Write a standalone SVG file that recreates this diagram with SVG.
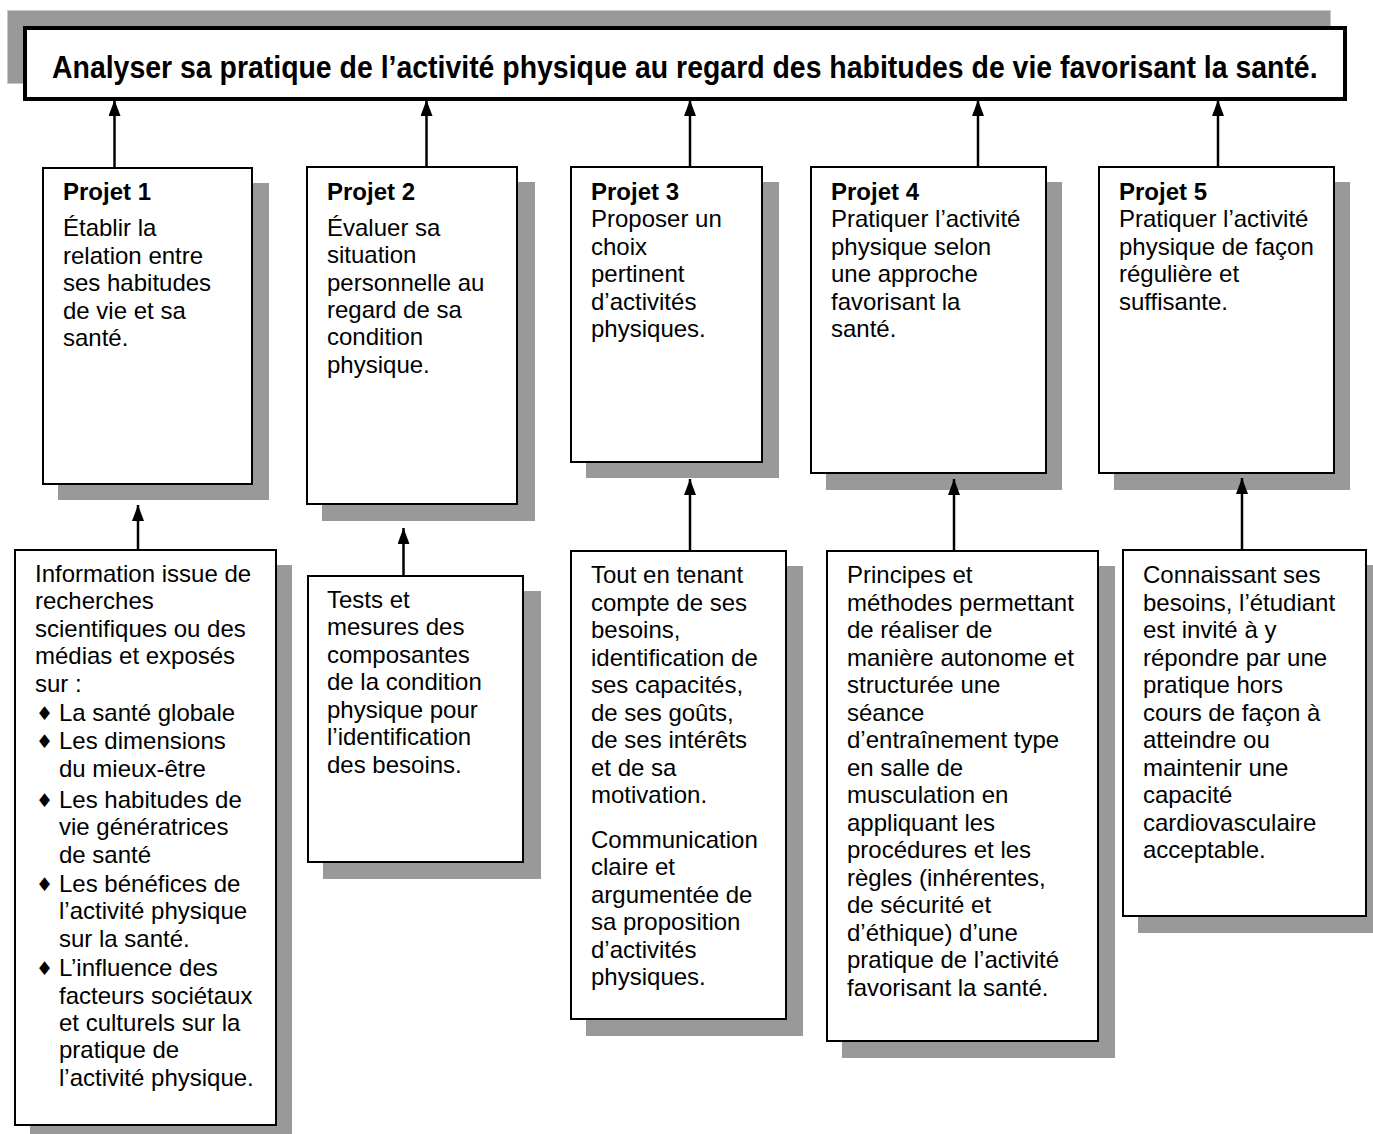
<svg xmlns="http://www.w3.org/2000/svg" width="1373" height="1134" viewBox="0 0 1373 1134">
<style>
.sh{fill:#999999}
.box{fill:#ffffff;stroke:#000000;stroke-width:2}
.t{font-family:"Liberation Sans",Arial,sans-serif;font-size:24px;fill:#000000}
.b{font-weight:bold}
.dm{font-family:"DejaVu Sans",sans-serif;font-size:19px}
.conn line{stroke:#000000;stroke-width:2.5;marker-end:url(#ah)}
</style>
<defs>
<marker id="ah" markerUnits="userSpaceOnUse" markerWidth="16" markerHeight="12" refX="16" refY="6" orient="auto">
<path d="M0,0 L16,6 L0,12 z" fill="#000000"/>
</marker>
</defs>
<rect width="1373" height="1134" fill="#ffffff"/>

<g id="title">
<rect x="7.5" y="10.5" width="1323" height="73" fill="#999999" stroke="#c8c8c8" stroke-width="1"/>
<rect x="25" y="28" width="1320" height="71" fill="#ffffff" stroke="#000000" stroke-width="4"/>
<text transform="translate(52,78) scale(0.8,1)" x="0" y="0" font-family="'Liberation Sans Narrow','Liberation Sans',Arial,sans-serif" font-size="31" font-weight="bold" textLength="1582" lengthAdjust="spacingAndGlyphs">Analyser sa pratique de l’activité physique au regard des habitudes de vie favorisant la santé.</text>
</g>

<g id="projet1">
<rect class="sh" x="58" y="183" width="211" height="317"/>
<rect class="box" x="43" y="168" width="209" height="316"/>
<text class="t"><tspan class="b" x="63" y="200">Projet 1</tspan><tspan x="63" y="236">Établir la</tspan><tspan x="63" y="263.5">relation entre</tspan><tspan x="63" y="291">ses habitudes</tspan><tspan x="63" y="318.5">de vie et sa</tspan><tspan x="63" y="346">santé.</tspan></text>
</g>

<g id="projet2">
<rect class="sh" x="322" y="182" width="213" height="339"/>
<rect class="box" x="307" y="167" width="210" height="337"/>
<text class="t"><tspan class="b" x="327" y="200">Projet 2</tspan><tspan x="327" y="236">Évaluer sa</tspan><tspan x="327" y="263.3">situation</tspan><tspan x="327" y="290.6">personnelle au</tspan><tspan x="327" y="317.9">regard de sa</tspan><tspan x="327" y="345.2">condition</tspan><tspan x="327" y="372.5">physique.</tspan></text>
</g>

<g id="projet3">
<rect class="sh" x="586" y="182" width="193" height="296"/>
<rect class="box" x="571" y="167" width="191" height="295"/>
<text class="t"><tspan class="b" x="591" y="199.5">Projet 3</tspan><tspan x="591" y="227">Proposer un</tspan><tspan x="591" y="254.5">choix</tspan><tspan x="591" y="282">pertinent</tspan><tspan x="591" y="309.5">d’activités</tspan><tspan x="591" y="337">physiques.</tspan></text>
</g>

<g id="projet4">
<rect class="sh" x="826" y="182" width="236" height="308"/>
<rect class="box" x="811" y="167" width="235" height="306"/>
<text class="t"><tspan class="b" x="831" y="199.5">Projet 4</tspan><tspan x="831" y="227">Pratiquer l’activité</tspan><tspan x="831" y="254.5">physique selon</tspan><tspan x="831" y="282">une approche</tspan><tspan x="831" y="309.5">favorisant la</tspan><tspan x="831" y="337">santé.</tspan></text>
</g>

<g id="projet5">
<rect class="sh" x="1114" y="182" width="236" height="308"/>
<rect class="box" x="1099" y="167" width="235" height="306"/>
<text class="t"><tspan class="b" x="1119" y="199.5">Projet 5</tspan><tspan x="1119" y="227">Pratiquer l’activité</tspan><tspan x="1119" y="254.5">physique de façon</tspan><tspan x="1119" y="282">régulière et</tspan><tspan x="1119" y="309.5">suffisante.</tspan></text>
</g>

<g id="contenu1">
<rect class="sh" x="30" y="565" width="262" height="580"/>
<rect class="box" x="15" y="550" width="261" height="575"/>
<text class="t"><tspan x="35" y="581.7">Information issue de</tspan><tspan x="35" y="609">recherches</tspan><tspan x="35" y="636.5">scientifiques ou des</tspan><tspan x="35" y="664">médias et exposés</tspan><tspan x="35" y="691.5">sur :</tspan><tspan x="59" y="721">La santé globale</tspan><tspan x="59" y="749.3">Les dimensions</tspan><tspan x="59" y="777">du mieux-être</tspan><tspan x="59" y="807.5">Les habitudes de</tspan><tspan x="59" y="835">vie génératrices</tspan><tspan x="59" y="862.5">de santé</tspan><tspan x="59" y="891.5">Les bénéfices de</tspan><tspan x="59" y="919">l’activité physique</tspan><tspan x="59" y="946.5">sur la santé.</tspan><tspan x="59" y="976">L’influence des</tspan><tspan x="59" y="1003.5">facteurs sociétaux</tspan><tspan x="59" y="1031">et culturels sur la</tspan><tspan x="59" y="1058.3">pratique de</tspan><tspan x="59" y="1085.6">l’activité physique.</tspan></text>
<text class="dm"><tspan x="36" y="720">♦</tspan><tspan x="36" y="748.3">♦</tspan><tspan x="36" y="806.5">♦</tspan><tspan x="36" y="890.5">♦</tspan><tspan x="36" y="975">♦</tspan></text>
</g>

<g id="contenu2">
<rect class="sh" x="323" y="591" width="218" height="288"/>
<rect class="box" x="308" y="576" width="215" height="286"/>
<text class="t"><tspan x="327" y="607.7">Tests et</tspan><tspan x="327" y="635.2">mesures des</tspan><tspan x="327" y="662.7">composantes</tspan><tspan x="327" y="690.2">de la condition</tspan><tspan x="327" y="717.7">physique pour</tspan><tspan x="327" y="745.2">l’identification</tspan><tspan x="327" y="772.7">des besoins.</tspan></text>
</g>

<g id="contenu3">
<rect class="sh" x="586" y="566" width="217" height="470"/>
<rect class="box" x="571" y="551" width="215" height="468"/>
<text class="t"><tspan x="591" y="583.3">Tout en tenant</tspan><tspan x="591" y="610.8">compte de ses</tspan><tspan x="591" y="638.3">besoins,</tspan><tspan x="591" y="665.8">identification de</tspan><tspan x="591" y="693.3">ses capacités,</tspan><tspan x="591" y="720.8">de ses goûts,</tspan><tspan x="591" y="748.3">de ses intérêts</tspan><tspan x="591" y="775.8">et de sa</tspan><tspan x="591" y="803.3">motivation.</tspan><tspan x="591" y="847.7">Communication</tspan><tspan x="591" y="875.2">claire et</tspan><tspan x="591" y="902.7">argumentée de</tspan><tspan x="591" y="930.2">sa proposition</tspan><tspan x="591" y="957.7">d’activités</tspan><tspan x="591" y="985.2">physiques.</tspan></text>
</g>

<g id="contenu4">
<rect class="sh" x="842" y="566" width="273" height="492"/>
<rect class="box" x="827" y="551" width="271" height="490"/>
<text class="t"><tspan x="847" y="583.3">Principes et</tspan><tspan x="847" y="610.8">méthodes permettant</tspan><tspan x="847" y="638.3">de réaliser de</tspan><tspan x="847" y="665.8">manière autonome et</tspan><tspan x="847" y="693.3">structurée une</tspan><tspan x="847" y="720.8">séance</tspan><tspan x="847" y="748.3">d’entraînement type</tspan><tspan x="847" y="775.8">en salle de</tspan><tspan x="847" y="803.3">musculation en</tspan><tspan x="847" y="830.8">appliquant les</tspan><tspan x="847" y="858.3">procédures et les</tspan><tspan x="847" y="885.8">règles (inhérentes,</tspan><tspan x="847" y="913.3">de sécurité et</tspan><tspan x="847" y="940.8">d’éthique) d’une</tspan><tspan x="847" y="968.3">pratique de l’activité</tspan><tspan x="847" y="995.8">favorisant la santé.</tspan></text>
</g>

<g id="contenu5">
<rect class="sh" x="1138" y="565" width="245" height="368"/>
<rect class="box" x="1123" y="550" width="243" height="366"/>
<text class="t"><tspan x="1143" y="583.3">Connaissant ses</tspan><tspan x="1143" y="610.8">besoins, l’étudiant</tspan><tspan x="1143" y="638.3">est invité à y</tspan><tspan x="1143" y="665.8">répondre par une</tspan><tspan x="1143" y="693.3">pratique hors</tspan><tspan x="1143" y="720.8">cours de façon à</tspan><tspan x="1143" y="748.3">atteindre ou</tspan><tspan x="1143" y="775.8">maintenir une</tspan><tspan x="1143" y="803.3">capacité</tspan><tspan x="1143" y="830.8">cardiovasculaire</tspan><tspan x="1143" y="858.3">acceptable.</tspan></text>
</g>

<g id="connectors" class="conn">
<line x1="114.5" y1="168" x2="114.5" y2="100"/>
<line x1="426.5" y1="167" x2="426.5" y2="100"/>
<line x1="690" y1="167" x2="690" y2="100"/>
<line x1="978" y1="167" x2="978" y2="100"/>
<line x1="1218" y1="167" x2="1218" y2="100"/>
<line x1="138" y1="550" x2="138" y2="505"/>
<line x1="403.5" y1="576" x2="403.5" y2="528"/>
<line x1="690" y1="551" x2="690" y2="479"/>
<line x1="954" y1="551" x2="954" y2="479"/>
<line x1="1242" y1="550" x2="1242" y2="478"/>
</g>
</svg>
